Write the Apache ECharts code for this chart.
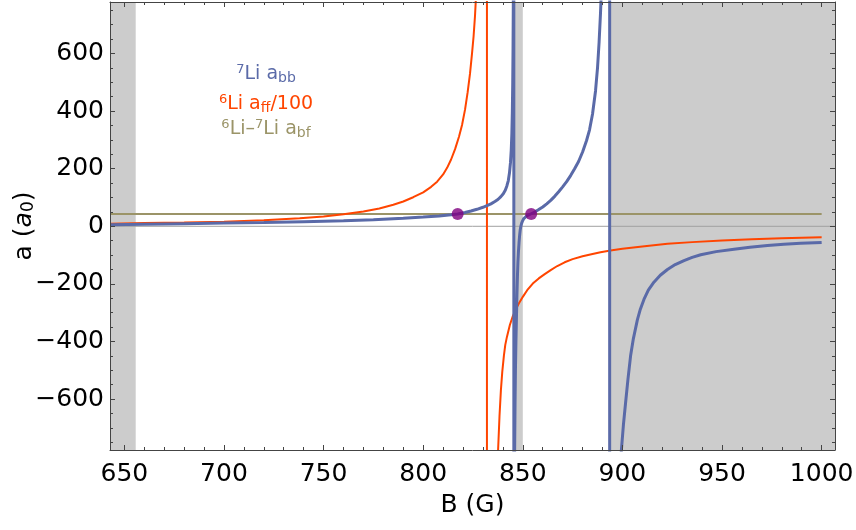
<!DOCTYPE html>
<html>
<head>
<meta charset="utf-8">
<script src="https://cdn.jsdelivr.net/npm/echarts@6/dist/echarts.min.js"></script>
<style>html,body{margin:0;padding:0;background:#fff}#c{width:856px;height:530px}</style>
</head>
<body>
<div id="c"></div>
<script>
// ---- data ----
const xMajor = [650, 700, 750, 800, 850, 900, 950, 1000];
const yMajor = [-600, -400, -200, 0, 200, 400, 600];
const xMinor = [660,670,680,690,710,720,730,740,760,770,780,790,810,820,830,840,860,870,880,890,910,920,930,940,960,970,980,990];
const yMinor = [-750,-700,-650,-550,-500,-450,-350,-300,-250,-150,-100,-50,50,100,150,250,300,350,450,500,550,650,700,750];

// 7Li a_bb (blue), three branches joined across the poles at ~845.5 G and ~893.6 G
const blueB = [642.8,660,680,700,720,740,760,775,790,800,808,814,817.3,821,824,827,830,832,834,836,837.5,839,840.2,841.2,842,842.7,843.3,843.8,844.2,844.5,844.75,844.95,845.1,845.25,845.35,845.45,
  845.55,845.65,845.75,845.9,846.1,846.3,846.55,846.8,847.05,847.3,847.55,847.8,848.1,848.4,848.7,849.0,849.4,849.9,850.5,851.2,852,853,854.2,856,858,860,862,864,866,868,870,872,874,876,878,880,882,883.5,885,886.5,887.5,888.3,889,889.5,890,891,892.5,893.55,
  893.65,895,897.5,898.5,899.5,900.5,901.6,902.8,904.1,905.5,907.5,909,910.8,913,915.8,919,922.6,926.5,930.9,935,939.3,947,956,964,972.8,981,989.5,1000];
const blueA = [5,7,9,11,13,16,19,23,28,32,36,40,43,48,53,59,66,71.5,78,86,93,103,113,125,140,158,185,220,265,320,400,500,620,800,1000,30000,
  -30000,-3000,-1000,-780,-620,-500,-400,-320,-240,-175,-125,-90,-58,-32,-13,0,10,19,27,32,36,39.5,43.5,49.5,58,67,78,90,104,120,137,155,176,200,225,258,298,335,390,470,550,640,740,830,950,1400,3000,30000,
  -30000,-2500,-1000,-880,-776,-690,-612,-530,-450,-390,-325,-288,-254,-222,-194,-170,-150,-133,-119,-108,-99,-88,-80,-73,-67,-62,-59,-56];

// 6Li a_ff / 100 (orange-red), two branches joined across the pole at ~832 G
const orangeB = [642.8,660,680,700,720,738,750,760,770,778,785,790,795,800,804,807,810,812,814,816,818,819.5,821,822.3,823.5,824.5,825.3,826,826.6,827.5,829,831,831.95,
  832.05,834,836,836.8,837.6,838.3,839,839.7,840.5,841.2,842,843.5,845,846.5,848,850,852.2,855,858,861,864,867.3,871,875,880,885,889,894,900,910,922.6,935,950,965,980,1000];
const orangeA = [9,11,13,16,21,28,34,42,51,62,75,86,101,118,137,155,180,203,232,268,312,352,405,465,530,600,660,730,810,950,1400,4000,50000,
  -50000,-3000,-1200,-1000,-777,-660,-570,-505,-450,-412,-385,-343,-312,-288,-268,-245,-222,-199,-181,-166,-152,-138,-125,-114,-104,-96,-90,-84,-78,-70,-61,-55,-49,-45,-41.5,-38];

// 6Li-7Li a_bf (olive, constant over 640-1000 G) and the two crossing points
const abfRange = [642.8, 1000];
const abf = 43;
const crossB = [817.3, 854.2];

// shaded (gray) field ranges
const bandStart = [642.8, 846.0, 893.3];
const bandEnd = [655.7, 850.0, 1006.7];

// ---- chart ----
const xMin = 642.8, xMax = 1006.7, yMin = -777, yMax = 779;
const BLUE = '#5a6aa8', ORANGE = '#ff4500', OLIVE = '#9b9468', PURPLE = '#800080';
const FONT = 'DejaVu Sans';
const zip = (a, b) => a.map((v, i) => [v, b[i]]);
const minus = v => (v < 0 ? '\u2212' + Math.abs(v) : String(v));

function xAx(pos, ticks, len, labels, line) {
  return {
    type: 'value', min: xMin, max: xMax, position: pos, z: 20,
    splitLine: { show: false },
    axisLine: { show: line, onZero: false, lineStyle: { color: '#444', width: 1 } },
    axisTick: { show: true, inside: true, length: len, customValues: ticks, lineStyle: { color: '#444', width: 1 } },
    axisLabel: labels ? { show: true, customValues: ticks, fontSize: 25, fontFamily: FONT, color: '#000', margin: 12, formatter: v => String(v) } : { show: false }
  };
}
function yAx(pos, ticks, len, labels, line) {
  return {
    type: 'value', min: yMin, max: yMax, position: pos, z: 20,
    splitLine: { show: false },
    axisLine: { show: line, onZero: false, lineStyle: { color: '#444', width: 1 } },
    axisTick: { show: true, inside: true, length: len, customValues: ticks, lineStyle: { color: '#444', width: 1 } },
    axisLabel: labels ? { show: true, customValues: ticks, fontSize: 25, fontFamily: FONT, color: '#000', margin: 6, formatter: minus } : { show: false }
  };
}

const xAxes = [
  xAx('bottom', xMajor, 5, true, true),
  xAx('bottom', xMinor, 3, false, false),
  xAx('top', xMajor, 5, false, true),
  xAx('top', xMinor, 3, false, false)
];
Object.assign(xAxes[0], { name: 'B (G)', nameLocation: 'middle', nameGap: 43, nameMoveOverlap: false,
  nameTextStyle: { fontSize: 25, fontFamily: FONT, color: '#000' } });
const yAxes = [
  yAx('left', yMajor, 5, true, true),
  yAx('left', yMinor, 3, false, false),
  yAx('right', yMajor, 5, false, true),
  yAx('right', yMinor, 3, false, false)
];
Object.assign(yAxes[0], { name: '{t|a (}{i|a}{s|0}{t|)}', nameLocation: 'middle', nameGap: 73, nameMoveOverlap: false,
  nameTextStyle: { fontSize: 25, fontFamily: FONT, color: '#000',
    rich: { t: { fontSize: 25, fontFamily: FONT, color: '#000' },
            i: { fontSize: 25, fontFamily: FONT, fontStyle: 'italic', color: '#000' },
            s: { fontSize: 17, fontFamily: FONT, color: '#000', verticalAlign: 'bottom', lineHeight: 14 } } } });

function legendText(y, text, color) {
  return {
    type: 'text', x: 266, y: y, z: 100,
    style: {
      text: text, align: 'center', verticalAlign: 'middle',
      rich: {
        m: { fontSize: 19, lineHeight: 22, fontFamily: FONT, fill: color },
        p: { fontSize: 13, lineHeight: 13, fontFamily: FONT, fill: color, verticalAlign: 'top' },
        b: { fontSize: 14, lineHeight: 14, fontFamily: FONT, fill: color, verticalAlign: 'bottom' }
      }
    }
  };
}

const chart = echarts.init(document.getElementById('c'), null, { renderer: 'canvas' });
chart.setOption({
  animation: false,
  backgroundColor: '#fff',
  grid: { left: 110, right: 21, top: 2, bottom: 80, containLabel: false, outerBoundsMode: 'none' },
  xAxis: xAxes,
  yAxis: yAxes,
  series: [
    { type: 'line', data: [[xMin, 0], [xMax, 0]], showSymbol: false, z: 1,
      lineStyle: { color: '#a0a0a0', width: 1 } },
    { type: 'line', data: abfRange.map(b => [b, abf]), showSymbol: false, z: 2,
      lineStyle: { color: OLIVE, width: 2 } },
    { type: 'line', data: zip(orangeB, orangeA), showSymbol: false, z: 3,
      lineStyle: { color: ORANGE, width: 2 } },
    { type: 'line', data: zip(blueB, blueA), showSymbol: false, z: 4,
      lineStyle: { color: BLUE, width: 3 } },
    { type: 'line', data: [[xMin, 0]], showSymbol: false, z: 6, silent: true,
      lineStyle: { opacity: 0 },
      markArea: { silent: true, itemStyle: { color: 'rgba(128,128,128,0.4)' },
        data: bandStart.map((s, i) => [{ xAxis: s }, { xAxis: bandEnd[i] }]) } },
    { type: 'scatter', data: crossB.map(b => [b, abf]), symbolSize: 12, z: 8,
      itemStyle: { color: PURPLE } }
  ],
  graphic: [
    legendText(74, '{p|7}{m|Li a}{b|bb}', BLUE),
    legendText(104, '{p|6}{m|Li a}{b|ff}{m|/100}', ORANGE),
    legendText(129, '{p|6}{m|Li\u2013}{p|7}{m|Li a}{b|bf}', OLIVE)
  ]
});
</script>
</body>
</html>
